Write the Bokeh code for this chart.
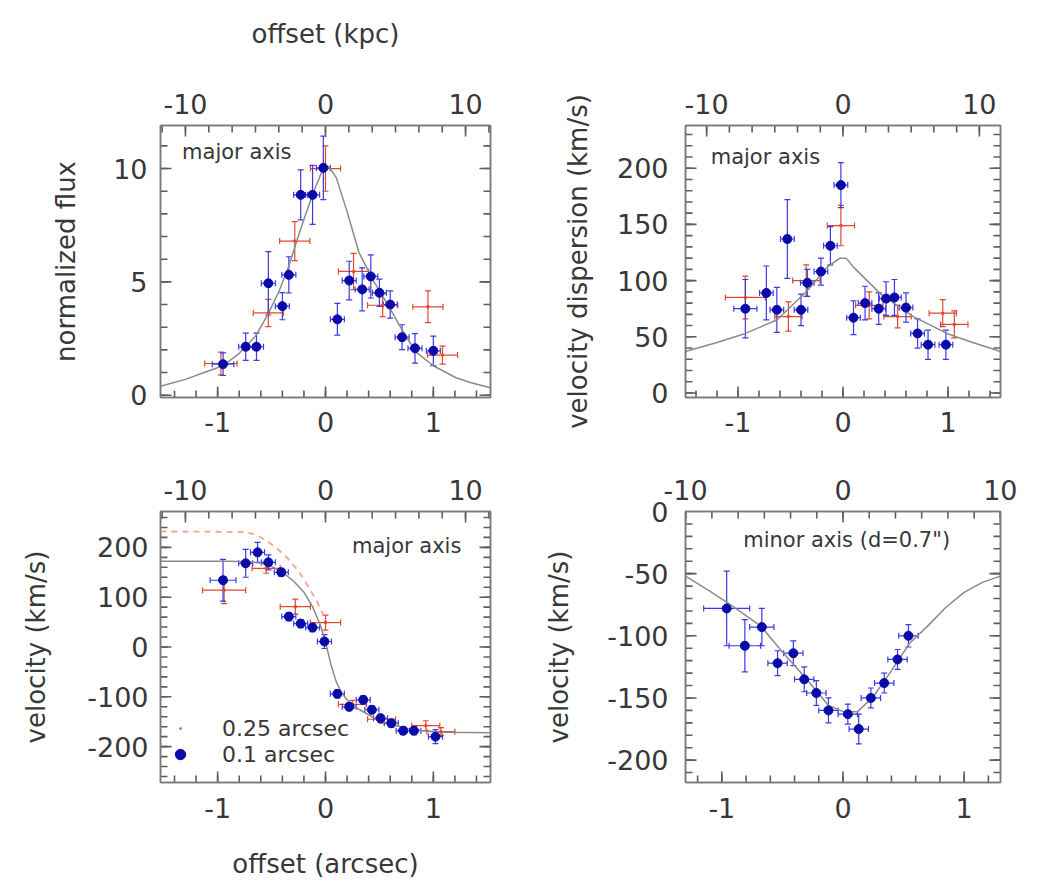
import numpy as np
from bokeh.plotting import figure
from bokeh.models import (Range1d, LinearAxis, FixedTicker, Whisker, TeeHead,
                          ColumnDataSource, Label, Legend)
from bokeh.layouts import row, column
from bokeh.embed import file_html
from bokeh.resources import INLINE

# ---------------- data ----------------
KPC_PER_ARCSEC = 7.7

arcsec_ticks = [-1, 0, 1]
arcsec_tick_labels = ["-1", "0", "1"]
kpc_ticks = [-10, 0, 10]
kpc_tick_labels = ["-10", "0", "10"]
flux_ticks = [0, 5, 10]
flux_tick_labels = ["0", "5", "10"]
disp_ticks = [0, 50, 100, 150, 200]
disp_tick_labels = ["0", "50", "100", "150", "200"]
vel_ticks = [-200, -100, 0, 100, 200]
vel_tick_labels = ["-200", "-100", "0", "100", "200"]
minor_ticks_v = [-200, -150, -100, -50, 0]
minor_tick_labels_v = ["-200", "-150", "-100", "-50", "0"]

# panel 1: normalized flux, major axis
flux_blue_x = [-0.95, -0.74, -0.64, -0.53, -0.40, -0.34, -0.23, -0.12, -0.02, 0.11, 0.22, 0.34, 0.42, 0.50, 0.60, 0.71, 0.83, 1.00]
flux_blue_y = [1.37, 2.14, 2.14, 4.94, 3.93, 5.31, 8.84, 8.84, 10.03, 3.35, 5.06, 4.67, 5.24, 4.52, 4.00, 2.56, 2.07, 1.96]
flux_blue_yerr = [0.5, 0.6, 0.6, 1.4, 0.6, 0.8, 1.1, 1.3, 1.4, 0.7, 0.85, 0.95, 0.95, 0.6, 0.6, 0.55, 0.65, 0.65]
flux_blue_xerr = [0.1, 0.065, 0.065, 0.065, 0.065, 0.065, 0.065, 0.065, 0.065, 0.065, 0.065, 0.065, 0.065, 0.065, 0.065, 0.065, 0.065, 0.065]
flux_red_x = [-0.97, -0.53, -0.285, 0.0, 0.26, 0.53, 0.95, 1.085]
flux_red_y = [1.4, 3.63, 6.8, 10.0, 5.46, 3.97, 3.9, 1.77]
flux_red_yerr = [0.5, 0.6, 0.86, 1.0, 0.8, 0.5, 0.7, 0.4]
flux_red_xerr = [0.15, 0.14, 0.14, 0.14, 0.14, 0.14, 0.14, 0.14]
flux_model_x = [-1.53, -1.3, -1.1, -0.95, -0.8, -0.65, -0.53, -0.43, -0.34, -0.26, -0.19, -0.1, -0.03, 0.03, 0.1, 0.2, 0.31, 0.45, 0.59, 0.72, 0.84, 1.0, 1.21, 1.35, 1.53]
flux_model_y = [0.4, 0.7, 1.05, 1.3, 1.85, 2.6, 3.6, 4.6, 5.7, 6.9, 7.9, 9.1, 9.9, 10.1, 9.6, 8.1, 6.3, 5.0, 3.9, 2.8, 1.9, 1.3, 0.77, 0.55, 0.33]

# panel 2: velocity dispersion, major axis
disp_blue_x = [-0.93, -0.73, -0.63, -0.53, -0.40, -0.34, -0.21, -0.12, -0.02, 0.10, 0.21, 0.34, 0.41, 0.49, 0.60, 0.71, 0.81, 0.98]
disp_blue_y = [75, 89, 74, 137, 74, 98, 108, 131, 185, 67, 80, 75, 84, 85, 76, 53, 43, 43]
disp_blue_yerr = [26, 24, 20, 35, 14, 12, 12, 17, 20, 15, 15, 14, 15, 16, 13, 13, 13, 13]
disp_blue_xerr = [0.11, 0.065, 0.065, 0.065, 0.065, 0.065, 0.065, 0.065, 0.065, 0.065, 0.065, 0.065, 0.065, 0.065, 0.065, 0.065, 0.065, 0.065]
disp_red_x = [-0.93, -0.52, -0.35, -0.02, 0.25, 0.52, 0.95, 1.06]
disp_red_y = [85, 68, 100, 149, 78, 68, 71, 61]
disp_red_yerr = [19, 13, 14, 18, 12, 10, 12, 12]
disp_red_xerr = [0.19, 0.13, 0.13, 0.13, 0.13, 0.13, 0.13, 0.13]
disp_model_x = [-1.5, -1.2, -0.93, -0.63, -0.34, -0.15, -0.03, 0.03, 0.1, 0.36, 0.67, 0.99, 1.2, 1.5]
disp_model_y = [37, 45, 53, 65, 91, 112, 120, 120, 112, 88, 68, 53, 46, 37]

# panel 3: velocity, major axis
vel_blue_x = [-0.95, -0.74, -0.63, -0.53, -0.41, -0.34, -0.23, -0.12, -0.01, 0.11, 0.22, 0.35, 0.43, 0.51, 0.61, 0.72, 0.82, 1.02]
vel_blue_y = [134, 168, 190, 170, 150, 61, 47, 39, 11, -94, -120, -106, -126, -143, -153, -168, -168, -180]
vel_blue_yerr = [42, 28, 20, 15, 8, 8, 8, 8, 14, 8, 8, 8, 8, 8, 8, 8, 8, 14]
vel_blue_xerr = [0.12, 0.065, 0.065, 0.065, 0.065, 0.065, 0.065, 0.065, 0.065, 0.065, 0.065, 0.065, 0.065, 0.065, 0.065, 0.065, 0.065, 0.065]
vel_red_x = [-0.94, -0.55, -0.28, 0.0, 0.25, 0.52, 0.93, 1.07]
vel_red_y = [114, 158, 81, 49, -115, -145, -158, -170]
vel_red_yerr = [27, 10, 15, 15, 8, 8, 10, 8]
vel_red_xerr = [0.2, 0.13, 0.14, 0.14, 0.13, 0.13, 0.13, 0.13]
vel_model_x = [-1.53, -0.9, -0.7, -0.6, -0.5, -0.4, -0.3, -0.2, -0.12, -0.05, 0.0, 0.05, 0.1, 0.15, 0.2, 0.3, 0.45, 0.6, 0.75, 0.9, 1.1, 1.53]
vel_model_y = [172, 172, 171, 168, 162, 150, 133, 110, 81, 45, 10, -35, -70, -92, -106, -124, -142, -155, -163, -168, -171, -172]
vel_model2_x = [-1.53, -0.75, -0.65, -0.55, -0.45, -0.35, -0.25, -0.15, -0.08, -0.02]
vel_model2_y = [232, 231, 226, 214, 198, 178, 152, 118, 92, 65]

# panel 4: velocity, minor axis
minor_blue_x = [-0.96, -0.81, -0.67, -0.54, -0.41, -0.32, -0.22, -0.12, 0.04, 0.13, 0.23, 0.34, 0.45, 0.54]
minor_blue_y = [-78, -108, -93, -122, -114, -135, -146, -160, -163, -175, -150, -138, -119, -100]
minor_blue_yerr = [30, 21, 15, 10, 10, 10, 10, 10, 8, 12, 8, 8, 8, 9]
minor_blue_xerr = [0.19, 0.13, 0.1, 0.08, 0.08, 0.08, 0.08, 0.08, 0.08, 0.08, 0.08, 0.08, 0.08, 0.08]
minor_model_x = [-1.3, -1.1, -0.9, -0.68, -0.5, -0.3, -0.12, 0.0, 0.12, 0.25, 0.4, 0.55, 0.7, 0.85, 1.0, 1.15, 1.3]
minor_model_y = [-52, -64, -77, -92, -113, -135, -156, -161, -161, -149, -128, -106, -92, -77, -65, -57, -52]

# ---------------- style ----------------
FONT = "DejaVu Sans"
TXT = "#383838"
FRAME = "#7a7a7a"
TICK = "#5e5e5e"
BLUE_PT = "#0a0aa8"
BLUE_ERR = "#3a3ae6"
RED_ERR = "#e2482e"
MODEL = "#8a8a8a"
DASH = "#f2a58f"
MAJOR_LEN, MINOR_LEN = 11, 7

arcsec_minor = [round(0.2 * i, 2) for i in range(-7, 8)]
kpc_minor = [10.0 * i / 6 for i in range(-7, 8)]


def make_fig(xr, yr, fw, fh, bl, br, bt, bb):
    p = figure(frame_width=fw, frame_height=fh,
               x_range=Range1d(*xr), y_range=Range1d(*yr),
               x_axis_location=None, y_axis_location=None,
               toolbar_location=None, output_backend="svg",
               min_border_left=bl, min_border_right=br,
               min_border_top=bt, min_border_bottom=bb,
               outline_line_color=FRAME, outline_line_width=1.5,
               background_fill_color="white", border_fill_color="white")
    p.xgrid.visible = False
    p.ygrid.visible = False
    p.extra_x_ranges = {"kpc": Range1d(xr[0] * KPC_PER_ARCSEC, xr[1] * KPC_PER_ARCSEC)}
    return p


def make_axis(ticks, labels, show=True, title="", standoff=10,
              title_standoff=10, range_name=None):
    kw = {"x_range_name": range_name} if range_name else {}
    ax = LinearAxis(ticker=FixedTicker(ticks=ticks), **kw)
    ax.major_label_overrides = dict(zip(ticks, labels))
    ax.axis_line_color = FRAME
    ax.axis_line_width = 1.5
    ax.major_tick_in = 0
    ax.major_tick_out = 0
    ax.minor_tick_in = 0
    ax.minor_tick_out = 0
    ax.major_label_text_font = FONT
    ax.major_label_text_font_size = "27px"
    ax.major_label_text_color = TXT if show else None
    ax.major_label_standoff = standoff if show else 0
    ax.axis_label = title if title else None
    ax.axis_label_text_font = FONT
    ax.axis_label_text_font_size = "26px"
    ax.axis_label_text_font_style = "normal"
    ax.axis_label_text_color = TXT
    ax.axis_label_standoff = title_standoff
    return ax


def add_ticks(p, xr, yr, fw, fh, y_major, y_minor):
    """Inward tick marks on all four sides (IDL style), placed through the plot scales."""
    dx = (xr[1] - xr[0]) / fw
    dy = (yr[1] - yr[0]) / fh
    xs, ys = [], []
    for ticks, L in ((arcsec_ticks, MAJOR_LEN), (arcsec_minor, MINOR_LEN)):
        for t in ticks:
            if xr[0] < t < xr[1]:
                xs.append([t, t]); ys.append([yr[0], yr[0] + L * dy])
    for ticks, L in ((kpc_ticks, MAJOR_LEN), (kpc_minor, MINOR_LEN)):
        for t in ticks:
            a = t / KPC_PER_ARCSEC
            if xr[0] < a < xr[1]:
                xs.append([a, a]); ys.append([yr[1], yr[1] - L * dy])
    for ticks, L in ((y_major, MAJOR_LEN), (y_minor, MINOR_LEN)):
        for t in ticks:
            if yr[0] < t < yr[1]:
                xs.append([xr[0], xr[0] + L * dx]); ys.append([t, t])
                xs.append([xr[1], xr[1] - L * dx]); ys.append([t, t])
    p.multi_line(xs=xs, ys=ys, line_color=TICK, line_width=1.6)


def add_axes(p, yt, yl, ylabel, ylab_standoff, left_standoff,
             top_title=None, bottom_title=None, bottom_standoff=10, bottom_title_standoff=10):
    p.add_layout(make_axis(arcsec_ticks, arcsec_tick_labels,
                           title=bottom_title, standoff=bottom_standoff,
                           title_standoff=bottom_title_standoff), "below")
    p.add_layout(make_axis(kpc_ticks, kpc_tick_labels, title=top_title,
                           standoff=12, title_standoff=42, range_name="kpc"), "above")
    p.add_layout(make_axis(yt, yl, title=ylabel, standoff=left_standoff,
                           title_standoff=ylab_standoff), "left")
    p.add_layout(make_axis(yt, yl, show=False), "right")


def add_points(p, x, y, xerr, yerr, kind):
    x = np.array(x, float); y = np.array(y, float)
    xerr = np.array(xerr, float); yerr = np.array(yerr, float)
    src = ColumnDataSource(dict(x=x, y=y, xl=x - xerr, xu=x + xerr, yl=y - yerr, yu=y + yerr))
    col = BLUE_ERR if kind == "blue" else RED_ERR
    for dim, base, lo, hi in (("height", "x", "yl", "yu"), ("width", "y", "xl", "xu")):
        p.add_layout(Whisker(source=src, base=base, lower=lo, upper=hi, dimension=dim,
                             line_color=col, line_width=1.2,
                             upper_head=TeeHead(size=6, line_color=col, line_width=1.2),
                             lower_head=TeeHead(size=6, line_color=col, line_width=1.2)))
    if kind == "blue":
        return p.scatter("x", "y", source=src, marker="circle", size=9,
                         fill_color=BLUE_PT, line_color=BLUE_PT)
    return p.scatter("x", "y", source=src, marker="dot", size=14,
                     fill_color=RED_ERR, line_color=RED_ERR)


def inset(p, x, y, text, align="left"):
    p.add_layout(Label(x=x, y=y, text=text, text_font=FONT, text_font_size="21px",
                       text_color=TXT, text_align=align, text_baseline="middle"))


XR = (-1.53, 1.53)

# ---------------- panel 1 ----------------
YR1 = (-0.1, 11.9)
p1 = make_fig(XR, YR1, 330, 272, 160, 30, 125, 43)
add_axes(p1, flux_ticks, flux_tick_labels, "normalized flux", 29, 13,
         top_title="offset (kpc)", bottom_standoff=14)
add_ticks(p1, XR, YR1, 330, 272, flux_ticks, list(range(0, 12)))
p1.line(flux_model_x, flux_model_y, line_color=MODEL, line_width=1.5)
add_points(p1, flux_red_x, flux_red_y, flux_red_xerr, flux_red_yerr, "red")
add_points(p1, flux_blue_x, flux_blue_y, flux_blue_xerr, flux_blue_yerr, "blue")
inset(p1, -1.33, 10.75, "major axis")

# ---------------- panel 2 ----------------
XR2, YR2 = (-1.5, 1.5), (-4, 238)
p2 = make_fig(XR2, YR2, 315, 272, 165, 22, 125, 43)
add_axes(p2, disp_ticks, disp_tick_labels, "velocity dispersion (km/s)", 21, 17,
         bottom_standoff=14)
add_ticks(p2, XR2, YR2, 315, 272, disp_ticks, list(range(0, 240, 10)))
p2.line(disp_model_x, disp_model_y, line_color=MODEL, line_width=1.5)
add_points(p2, disp_red_x, disp_red_y, disp_red_xerr, disp_red_yerr, "red")
add_points(p2, disp_blue_x, disp_blue_y, disp_blue_xerr, disp_blue_yerr, "blue")
inset(p2, -1.26, 210, "major axis")

# ---------------- panel 3 ----------------
YR3 = (-272, 272)
p3 = make_fig(XR, YR3, 330, 271, 160, 30, 71, 105)
add_axes(p3, vel_ticks, vel_tick_labels, "velocity (km/s)", 33, 12,
         bottom_title="offset (arcsec)", bottom_standoff=15, bottom_title_standoff=28)
add_ticks(p3, XR, YR3, 330, 271, vel_ticks, list(range(-260, 261, 20)))
p3.line(vel_model_x, vel_model_y, line_color=MODEL, line_width=1.5)
p3.line(vel_model2_x, vel_model2_y, line_color=DASH, line_width=1.8, line_dash="6 5")
r_red = add_points(p3, vel_red_x, vel_red_y, vel_red_xerr, vel_red_yerr, "red")
r_blue = add_points(p3, vel_blue_x, vel_blue_y, vel_blue_xerr, vel_blue_yerr, "blue")
inset(p3, 1.26, 202, "major axis", align="right")
legend = Legend(items=[("0.25 arcsec", [r_red]), ("0.1 arcsec", [r_blue])],
                location=(5, 15), border_line_color=None, background_fill_alpha=0,
                label_text_font=FONT, label_text_font_size="22px", label_text_color=TXT,
                glyph_width=30, glyph_height=26, label_height=26, label_standoff=27,
                padding=6, spacing=0, margin=0)
p3.add_layout(legend)

# ---------------- panel 4 ----------------
XR4, YR4 = (-1.3, 1.3), (-218, 0)
p4 = make_fig(XR4, YR4, 315, 271, 165, 22, 71, 105)
add_axes(p4, minor_ticks_v, minor_tick_labels_v, "velocity (km/s)", 30, 17,
         bottom_standoff=15)
add_ticks(p4, XR4, YR4, 315, 271, minor_ticks_v, list(range(-210, 1, 10)))
p4.line(minor_model_x, minor_model_y, line_color=MODEL, line_width=1.5)
add_points(p4, minor_blue_x, minor_blue_y, minor_blue_xerr, minor_blue_yerr, "blue")
inset(p4, 0.03, -23, "minor axis (d=0.7\")", align="center")

layout = column(row(p1, p2), row(p3, p4))
open("out.html", "w").write(file_html(layout, INLINE))
